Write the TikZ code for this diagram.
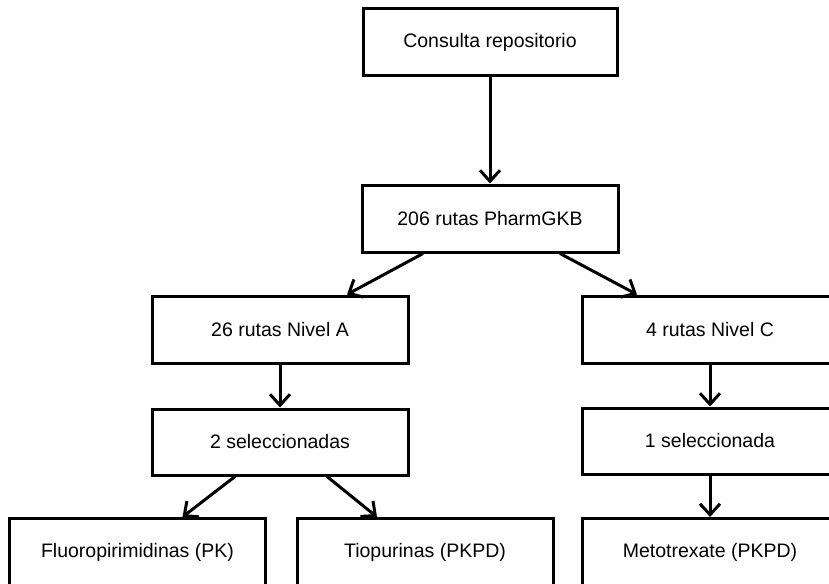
\documentclass[tikz,border=0pt]{standalone}
\usepackage{fontspec}
\setmainfont{Liberation Sans}
\usetikzlibrary{arrows.meta}

\tikzset{
  stagebox/.style={draw=black, fill=white, line width=3pt,
    minimum width=256pt, minimum height=66pt, inner sep=0pt,
    font=\fontsize{19.5}{23}\selectfont},
  flow/.style={line width=3pt, -{Straight Barb[length=11pt,width=20pt,line width=3pt]}}
}

\begin{document}
\begin{tikzpicture}[x=1pt, y=-1pt]
  \useasboundingbox (0,0) rectangle (829,583);
  \clip (0,0) rectangle (829,583);

  % stages of the selection funnel
  \node[stagebox, minimum width=254pt, minimum height=67pt] (repo) at (490,42.5) {Consulta repositorio};
  \node[stagebox, minimum height=67pt] (pgkb) at (490,218.5) {206 rutas PharmGKB};
  \node[stagebox, minimum height=67pt] (nivA) at (280,329.5) {26 rutas Nivel A};
  \node[stagebox, minimum height=67pt] (nivC) at (710,329.5) {4 rutas Nivel C};
  \node[stagebox] (selA) at (280,442) {2 seleccionadas};
  \node[stagebox] (selC) at (710,441) {1 seleccionada};
  \node[stagebox, minimum height=67pt] (fluo) at (137.5,552) {Fluoropirimidinas (PK)};
  \node[stagebox, minimum height=67pt] (tiop) at (425,552) {Tiopurinas (PKPD)};
  \node[stagebox, minimum height=67pt] (meto) at (710,552) {Metotrexate (PKPD)};

  % connectors
  \draw[flow] (repo.south) -- (pgkb.north);
  \draw[flow] ([xshift=-67pt]pgkb.south) -- ([xshift=67pt]nivA.north);
  \draw[flow] ([xshift=70pt]pgkb.south) -- ([xshift=-73pt]nivC.north);
  \draw[flow] (nivA.south) -- (selA.north);
  \draw[flow] (nivC.south) -- (selC.north);
  \draw[flow] ([xshift=-45pt]selA.south) -- ([xshift=45pt]fluo.north);
  \draw[flow] ([xshift=47pt]selA.south) -- ([xshift=-48pt]tiop.north);
  \draw[flow] (selC.south) -- (meto.north);
\end{tikzpicture}
\end{document}
